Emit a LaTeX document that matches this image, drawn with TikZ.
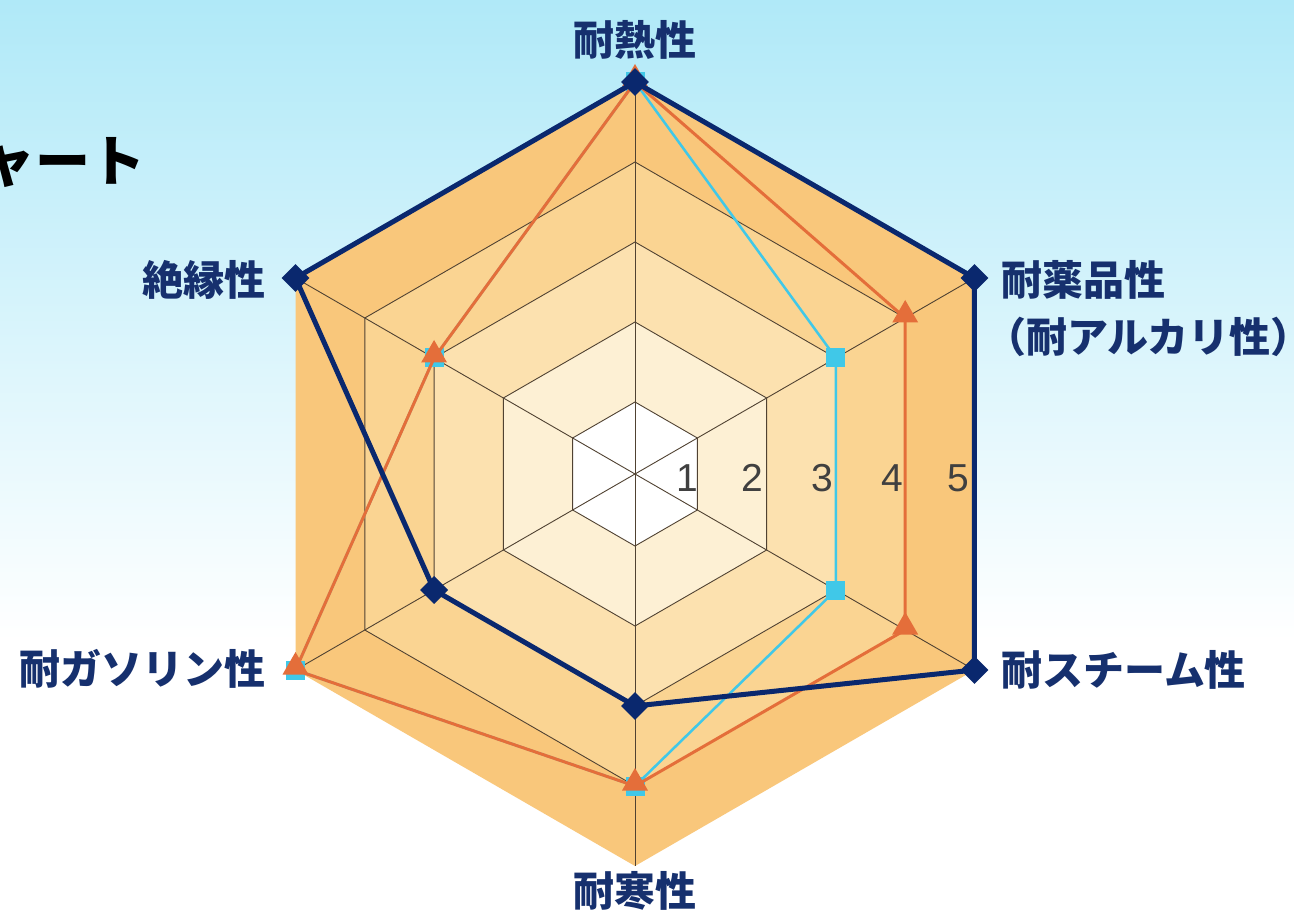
\documentclass[tikz,border=0pt]{standalone}
\usepackage{fontspec}
\setmainfont{Liberation Sans}
\newfontfamily\jp{Noto Sans CJK JP}
\usetikzlibrary{shapes.geometric}
\definecolor{bgtop}{RGB}{176,233,248}
\definecolor{ringA}{RGB}{249,199,123}
\definecolor{ringB}{RGB}{250,212,146}
\definecolor{ringC}{RGB}{252,225,175}
\definecolor{ringD}{RGB}{253,240,212}
\definecolor{gridc}{RGB}{80,66,50}
\definecolor{navy}{RGB}{10,40,110}
\definecolor{lblblue}{RGB}{22,48,110}
\definecolor{orng}{RGB}{228,110,58}
\definecolor{cyn}{RGB}{64,200,232}
\definecolor{numgray}{RGB}{64,64,64}
\tikzset{
  lbl/.style={font=\jp\bfseries\fontsize{41}{46}\selectfont, text=lblblue, inner sep=0pt},
  num/.style={font=\fontsize{39}{44}\selectfont, text=numgray, inner sep=0pt, anchor=base},
  gridline/.style={draw=gridc, line width=0.9pt},
  navyline/.style={draw=navy, line width=5pt, line join=round},
  orangeline/.style={draw=orng, line width=3pt, line join=round},
  cyanline/.style={draw=cyn, line width=2.5pt, line join=round},
  navymark/.style={diamond, fill=navy, minimum size=28pt, inner sep=0pt},
  orangemark/.style={regular polygon, regular polygon sides=3, fill=orng, minimum size=30pt, inner sep=0pt},
  cyanmark/.style={rectangle, fill=cyn, minimum size=19pt, inner sep=0pt}
}
\begin{document}
\begin{tikzpicture}[x=1pt,y=1pt]
\useasboundingbox (0,0) rectangle (1294,-917);
\fill[white] (0,0) rectangle (1294,-917);
\shade[top color=bgtop, bottom color=white] (0,0) rectangle (1294,-640);
% title fragment
\node[font=\jp\bfseries\fontsize{55}{60}\selectfont, text=black, anchor=west, inner sep=0pt] (title) at (-20,-163) {ャート};
\begin{scope}[shift={(635,-474)}]
  \coordinate (c) at (0,0);
  % rings
  \fill[ringA] (90:392) -- (30:392) -- (-30:392) -- (-90:392) -- (210:392) -- (150:392) -- cycle;
  \fill[ringB] (90:312) -- (30:312) -- (-30:312) -- (-90:312) -- (210:312) -- (150:312) -- cycle;
  \fill[ringC] (90:232) -- (30:232) -- (-30:232) -- (-90:232) -- (210:232) -- (150:232) -- cycle;
  \fill[ringD] (90:152) -- (30:152) -- (-30:152) -- (-90:152) -- (210:152) -- (150:152) -- cycle;
  \fill[white] (90:72) -- (30:72) -- (-30:72) -- (-90:72) -- (210:72) -- (150:72) -- cycle;
  % grid
  \foreach \r in {72,152,232,312}
    \draw[gridline] (90:\r) -- (30:\r) -- (-30:\r) -- (-90:\r) -- (210:\r) -- (150:\r) -- cycle;
  \foreach \a in {90,30,-30,-90,210,150}
    \draw[gridline] (c) -- (\a:392);
  % scale numbers
  \node[num] (n1) at (52,-17) {1};
  \node[num] (n2) at (117,-17) {2};
  \node[num] (n3) at (187,-17) {3};
  \node[num] (n4) at (257,-17) {4};
  \node[num] (n5) at (323,-17) {5};
  % data coordinates
  \coordinate (cA) at (90:392);  \coordinate (cB) at (30:232);  \coordinate (cC) at (-30:232);
  \coordinate (cD) at (-90:312); \coordinate (cE) at (210:392); \coordinate (cF) at (150:232);
  \coordinate (oA) at (90:392);  \coordinate (oB) at (30:312);  \coordinate (oC) at (-30:312);
  \coordinate (oD) at (-90:312); \coordinate (oE) at (210:392); \coordinate (oF) at (150:232);
  \coordinate (vA) at (90:392);  \coordinate (vB) at (30:392);  \coordinate (vC) at (-30:392);
  \coordinate (vD) at (-90:232); \coordinate (vE) at (210:232); \coordinate (vF) at (150:392);
  % cyan series
  \draw[cyanline] (cA) -- (cB) -- (cC) -- (cD) -- (cE) -- (cF) -- cycle;
  \foreach \p in {cA,cB,cC,cD,cE,cF} \node[cyanmark] (m\p) at (\p) {};
  % orange series
  \draw[orangeline] (oA) -- (oB) -- (oC) -- (oD) -- (oE) -- (oF) -- cycle;
  \foreach \p in {oA,oB,oC,oD,oE,oF} \node[orangemark, yshift=3pt] (m\p) at (\p) {};
  % navy series
  \draw[navyline] (vA) -- (vB) -- (vC) -- (vD) -- (vE) -- (vF) -- cycle;
  \foreach \p in {vA,vB,vC,vD,vE,vF} \node[navymark] (m\p) at (\p) {};
\end{scope}
% axis labels
\node[lbl] (heat) at (635,-40) {耐熱性};
\node[lbl, anchor=west] (chem) at (1001,-280) {耐薬品性};
\node[lbl, anchor=west] (alk) at (985,-337) {（耐アルカリ性）};
\node[lbl, anchor=west] (steam) at (1001,-670) {耐スチーム性};
\node[lbl] (cold) at (635,-891) {耐寒性};
\node[lbl, anchor=east] (gas) at (266,-669) {耐ガソリン性};
\node[lbl, anchor=east] (ins) at (266,-280) {絶縁性};
\end{tikzpicture}
\end{document}
